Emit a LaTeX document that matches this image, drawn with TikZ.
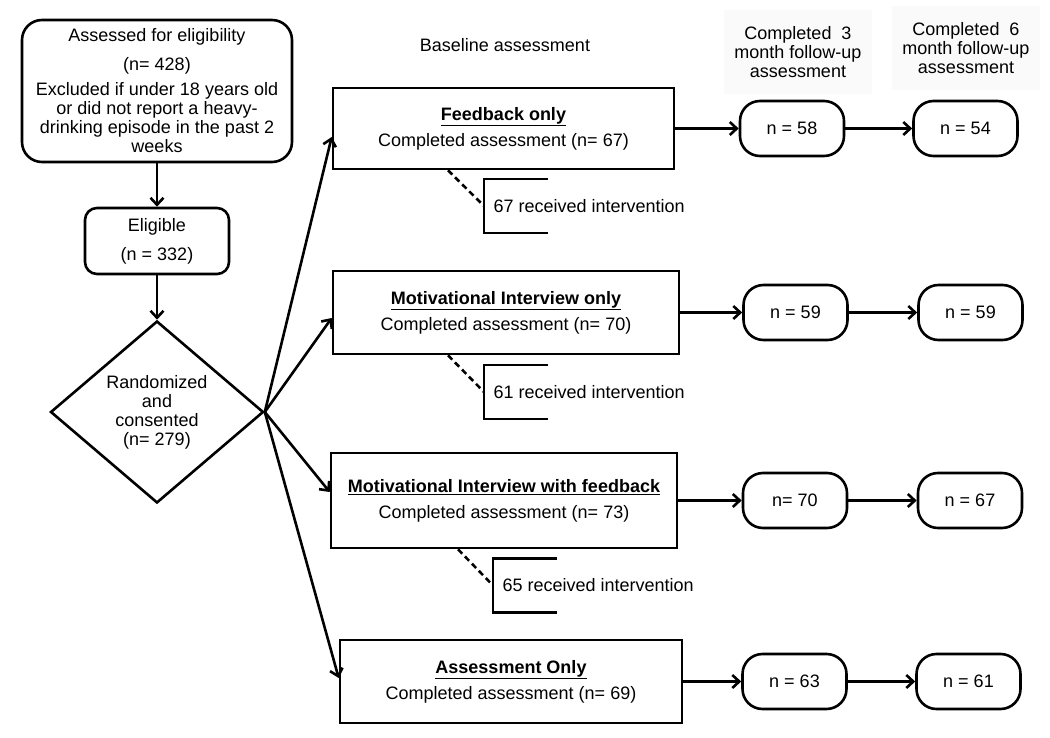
\documentclass[tikz,border=0pt]{standalone}
\usepackage{fontspec}
\setmainfont{Liberation Sans}
\usetikzlibrary{shapes.geometric, arrows.meta}

\begin{document}
\begin{tikzpicture}
            [x=1pt, y=-1pt, >={Straight Barb[length=7pt,width=13pt]}, line width=2.6pt,
             every node/.style={font=\fontsize{18}{19}\selectfont},
             rbox/.style={draw, rounded corners=20pt, align=center, line width=2.6pt},
             armbox/.style={draw, align=center, line width=2.6pt},
             fubox/.style={draw, rounded corners=20pt, minimum width=104pt, minimum height=55pt, line width=2.6pt},
             hdr/.style={align=center, fill=black!2, minimum width=148pt, minimum height=84pt},
             flow/.style={->, line width=2.6pt},
             brk/.style={line width=2.6pt},
             dashlink/.style={line width=2.6pt, dash pattern=on 6pt off 4pt}]
            \useasboundingbox (0,0) rectangle (1050,738);

            % column headings
            \node (base) at (505,45) {Baseline assessment};
            \node[hdr] (hdr3) at (798,52) {Completed~ 3\\ month follow-up\\ assessment};
            \node[hdr] (hdr6) at (966,48) {Completed~ 6\\ month follow-up\\ assessment};

            % enrolment
            \node[rbox, minimum width=270pt, minimum height=142pt] (assess) at (157,91)
                {Assessed for eligibility\\[10pt] (n= 428)\\[6pt] Excluded if under 18 years old\\ or did not report a heavy-\\ drinking episode in the past 2\\ weeks};
            \node[rbox, rounded corners=12pt, minimum width=144pt, minimum height=66pt] (elig) at (157,241)
                {Eligible\\[10pt] (n = 332)};
            \node[diamond, draw, line width=2.6pt, minimum width=213pt, minimum height=182pt, inner sep=0pt, align=center] (rand) at (157,412)
                {Randomized\\ and\\ consented\\ (n= 279)};

            % study arms
            \node[armbox, minimum width=341pt, minimum height=81pt] (arm1) at (503.5,128.5)
                {\underline{\textbf{Feedback only}}\\[7pt] Completed assessment (n= 67)};
            \node[armbox, minimum width=346pt, minimum height=83pt] (arm2) at (506,312.5)
                {\underline{\textbf{Motivational Interview only}}\\[7pt] Completed assessment (n= 70)};
            \node[armbox, minimum width=346pt, minimum height=95pt] (arm3) at (504,500.5)
                {\underline{\textbf{Motivational Interview with feedback}}\\[7pt] Completed assessment (n= 73)};
            \node[armbox, minimum width=342pt, minimum height=83pt] (arm4) at (511,681.5)
                {\underline{\textbf{Assessment Only}}\\[7pt] Completed assessment (n= 69)};

            % follow-up
            \node[fubox] (fu3a) at (792,128.5) {n = 58};
            \node[fubox] (fu6a) at (965.5,128.5) {n = 54};
            \node[fubox] (fu3b) at (795.5,312.5) {n = 59};
            \node[fubox] (fu6b) at (970.5,312.5) {n = 59};
            \node[fubox] (fu3c) at (795,500.5) {n= 70};
            \node[fubox] (fu6c) at (970,500.5) {n = 67};
            \node[fubox] (fu3d) at (794.5,681.5) {n = 63};
            \node[fubox] (fu6d) at (968.5,681.5) {n = 61};

            % received intervention
            \coordinate (br1) at (484,206);
            \coordinate (br2) at (484,392);
            \coordinate (br3) at (493,585.5);
            \node[anchor=west] (rec1) at ([xshift=5pt]br1) {67 received intervention};
            \node[anchor=west] (rec2) at ([xshift=5pt]br2) {61 received intervention};
            \node[anchor=west] (rec3) at ([xshift=5pt]br3) {65 received intervention};
            \draw[brk] ([xshift=64pt,yshift=27pt]br1) -| ([yshift=-27pt]br1) -- ([xshift=64pt,yshift=-27pt]br1);
            \draw[brk] ([xshift=64pt,yshift=27pt]br2) -| ([yshift=-27pt]br2) -- ([xshift=64pt,yshift=-27pt]br2);
            \draw[brk] ([xshift=64pt,yshift=27pt]br3) -| ([yshift=-27pt]br3) -- ([xshift=64pt,yshift=-27pt]br3);
            \draw[dashlink] ([xshift=-55.5pt]arm1.south) -- (br1);
            \draw[dashlink] ([xshift=-58pt]arm2.south) -- (br2);
            \draw[dashlink] ([xshift=-46pt]arm3.south) -- (br3);

            \path [flow] (assess) edge (elig);
            \path [flow] (elig) edge (rand);
            \path [flow] (rand.east) edge ([yshift=-8.5pt]arm1.west);
            \path [flow] (rand.east) edge ([yshift=-5.5pt]arm2.west);
            \path [flow] (rand.east) edge ([yshift=8.5pt]arm3.west);
            \path [flow] (rand.east) edge ([yshift=3.5pt]arm4.west);
            \path [flow] (arm1) edge (fu3a);
            \path [flow] (fu3a) edge (fu6a);
            \path [flow] (arm2) edge (fu3b);
            \path [flow] (fu3b) edge (fu6b);
            \path [flow] (arm3) edge (fu3c);
            \path [flow] (fu3c) edge (fu6c);
            \path [flow] (arm4) edge (fu3d);
            \path [flow] (fu3d) edge (fu6d);
        \end{tikzpicture}
\end{document}
